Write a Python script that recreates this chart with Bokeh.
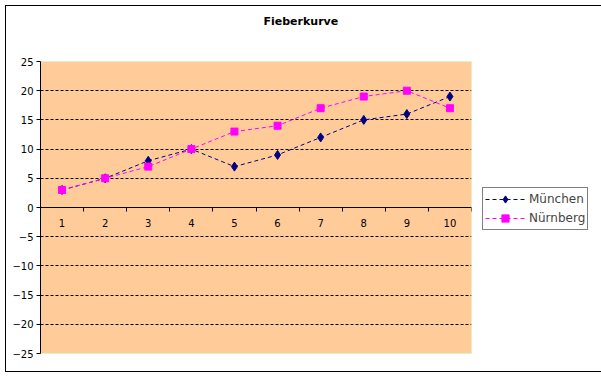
from bokeh.plotting import figure
from bokeh.models import (Range1d, FixedTicker, LinearAxis, Legend, LegendItem, Grid, Title)
from bokeh.embed import file_html
from bokeh.resources import INLINE

# ---- data ----
tage = [1, 2, 3, 4, 5, 6, 7, 8, 9, 10]
muenchen = [3, 5, 8, 10, 7, 9, 12, 15, 16, 19]
nuernberg = [3, 5, 7, 10, 13, 14, 17, 19, 20, 17]
y_ticks = [-25, -20, -15, -10, -5, 0, 5, 10, 15, 20, 25]
grid_ticks = [-20, -15, -10, -5, 5, 10, 15, 20]
cat_bounds = [t + 0.5 for t in tage]
title_text = "Fieberkurve"
series_names = ["München", "Nürnberg"]

FONT = "DejaVu Sans"

p = figure(frame_width=431, frame_height=292, output_backend="svg", toolbar_location=None,
           x_range=Range1d(0.5, 10.5), y_range=Range1d(-25, 25),
           min_border_left=34, min_border_right=125, min_border_top=55, min_border_bottom=18,
           x_axis_type=None, y_axis_type=None)
p.styles = {"outline": "1px solid black", "margin-left": "6px", "margin-top": "6px"}
p.background_fill_color = "#FFCC99"
p.border_fill_color = "white"
p.outline_line_color = "#E6EEC4"

# y axis
yax = LinearAxis(ticker=FixedTicker(ticks=y_ticks, minor_ticks=[]))
yax.major_tick_out = 4
yax.major_tick_in = 0
yax.minor_tick_out = 0
yax.axis_line_color = "black"
yax.major_tick_line_color = "black"
yax.major_label_text_font = FONT
yax.major_label_text_font_size = "10px"
yax.major_label_text_color = "black"
yax.major_label_standoff = 3
p.add_layout(yax, "left")

# y grid
grid = Grid(dimension=1, ticker=FixedTicker(ticks=grid_ticks))
grid.grid_line_color = "black"
grid.grid_line_dash = "3 2"
grid.grid_line_width = 1
p.add_layout(grid)

# x axis crossing at 0
xax = LinearAxis(ticker=FixedTicker(ticks=tage, minor_ticks=cat_bounds))
xax.fixed_location = 0
xax.major_tick_out = 0
xax.major_tick_in = 0
xax.minor_tick_out = 4
xax.minor_tick_in = 0
xax.minor_tick_line_color = "black"
xax.axis_line_color = "black"
xax.major_label_text_font = FONT
xax.major_label_text_font_size = "10px"
xax.major_label_text_color = "black"
xax.major_label_standoff = 7
p.add_layout(xax, "below")

# series
l1 = p.line(tage, muenchen, line_color="#000080", line_width=1, line_dash="4 3")
m1 = p.scatter(tage, muenchen, marker="diamond", size=9, fill_color="#000080", line_color="#000080")
l2 = p.line(tage, nuernberg, line_color="#FF00FF", line_width=1, line_dash="4 3")
m2 = p.scatter(tage, nuernberg, marker="square", size=7, fill_color="#FF00FF", line_color="#FF00FF")

legend = Legend(items=[LegendItem(label=series_names[0], renderers=[l1, m1]),
                       LegendItem(label=series_names[1], renderers=[l2, m2])],
                location=(11, 123))
legend.border_line_color = "black"
legend.border_line_width = 1
legend.background_fill_color = "white"
legend.background_fill_alpha = 1
legend.label_text_font = FONT
legend.label_text_font_size = "12px"
legend.glyph_width = 40
legend.glyph_height = 18
legend.label_height = 18
legend.label_standoff = 4
legend.spacing = 1
legend.padding = 2
legend.margin = 0
p.add_layout(legend, "right")

# spacer between frame and title (blank text)
spacer = Title(text=" ", text_font=FONT, text_font_size="11px", standoff=16)
p.add_layout(spacer, "above")

title = Title(text=title_text, align="left", offset=223, text_font=FONT,
              text_font_size="11px", text_font_style="bold", text_color="black",
              standoff=5)
p.add_layout(title, "above")

open("out.html", "w").write(file_html(p, INLINE))
